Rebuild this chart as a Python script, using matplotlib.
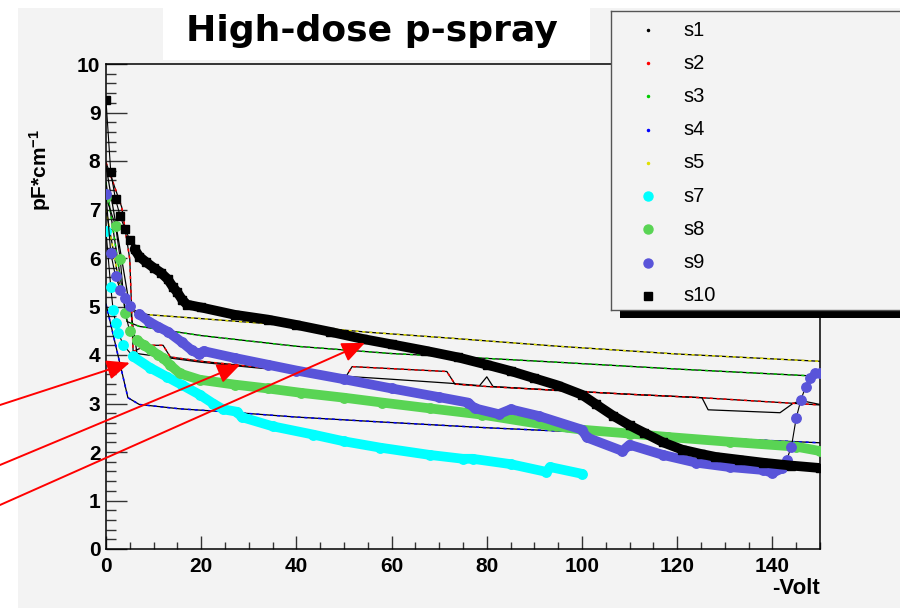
import numpy as np
import matplotlib.pyplot as plt
from matplotlib.patches import Rectangle
from matplotlib.ticker import MultipleLocator

plt.rcParams['font.family'] = ['Liberation Sans', 'DejaVu Sans']
plt.rcParams['mathtext.fontset'] = 'custom'
plt.rcParams['mathtext.rm'] = 'Liberation Sans'
plt.rcParams['mathtext.bf'] = 'Liberation Sans:bold'
plt.rcParams['mathtext.default'] = 'bf'

# ---- data (bias in -V, capacitance in pF/cm) ----
s1_v = [0, 6.0, 6.5, 20, 30, 40, 50.5, 60, 72, 78.5, 80, 81.3, 95, 110, 125.2, 126.5, 141.6, 144.3, 146, 150]
s1_c = [7.9, 4.4, 4.03, 3.85, 3.75, 3.66, 3.56, 3.5, 3.42, 3.37, 3.55, 3.35, 3.27, 3.19, 3.12, 2.87, 2.81, 3.0, 3.06, 2.98]

s2_v = [0, 3.3, 5.0, 5.7, 8.5, 12, 13.5, 20, 30, 40, 50.5, 51.7, 71.6, 73.3, 80, 95, 110, 125, 150]
s2_c = [7.97, 7.05, 5.97, 4.07, 4.2, 4.2, 3.96, 3.87, 3.77, 3.67, 3.57, 3.76, 3.66, 3.4, 3.35, 3.27, 3.19, 3.12, 2.97]

s3_v = [0, 4.4, 7, 20, 40, 60, 80, 95, 120, 150]
s3_c = [7.56, 4.69, 4.59, 4.4, 4.18, 4.03, 3.93, 3.85, 3.71, 3.56]

s4_v = [0, 4.6, 7, 15.5, 25, 40, 57.6, 80, 100, 125, 150]
s4_c = [5.05, 3.12, 2.98, 2.89, 2.83, 2.72, 2.62, 2.5, 2.41, 2.3, 2.19]

s5_v = [0, 3, 6, 9, 20, 40, 55, 72, 95, 120, 150]
s5_c = [7.0, 5.35, 4.88, 4.83, 4.75, 4.6, 4.47, 4.35, 4.18, 4.02, 3.87]

s7_v = [0, 1, 1.5, 2, 2.6, 3.6, 5.7, 9.2, 12.8, 16, 19.7, 22.5, 24.6, 27.5, 28.5, 35, 43.5, 50, 57.6, 68, 75, 77, 85, 92.5, 93.3, 100]
s7_c = [6.55, 5.4, 4.93, 4.67, 4.46, 4.21, 3.97, 3.74, 3.55, 3.38, 3.18, 3.0, 2.88, 2.83, 2.72, 2.53, 2.36, 2.22, 2.09, 1.94, 1.86, 1.86, 1.75, 1.59, 1.69, 1.55]

s8_v = [0, 2, 3, 4, 5, 6.5, 8, 9.5, 11, 12, 13.4, 15.5, 19.7, 27, 34, 41, 50, 58, 68, 79, 93, 100, 110, 118, 131, 145, 150]
s8_c = [7.25, 6.67, 5.97, 4.87, 4.49, 4.3, 4.2, 4.1, 4.0, 3.94, 3.8, 3.62, 3.49, 3.39, 3.31, 3.22, 3.12, 3.02, 2.9, 2.77, 2.55, 2.46, 2.38, 2.31, 2.21, 2.11, 2.02]

s9_v = [0, 1, 2, 3, 4, 5, 7, 9, 11, 13, 16, 18, 19.5, 20.5, 27, 34, 40, 50, 60, 70, 76, 77.5, 82.5, 85, 91, 100, 101,
        108.5, 110, 117, 124, 131, 138, 140, 142, 143, 144, 145, 146, 147, 148, 149, 150]
s9_c = [7.31, 6.1, 5.62, 5.35, 5.17, 5.02, 4.84, 4.69, 4.58, 4.48, 4.26, 4.1, 4.02, 4.08, 3.94, 3.8, 3.68, 3.5, 3.31, 3.13, 3.02, 2.9, 2.78, 2.88, 2.74, 2.46, 2.3,
        2.02, 2.15, 1.94, 1.78, 1.69, 1.63, 1.57, 1.66, 1.84, 2.11, 2.7, 3.08, 3.35, 3.53, 3.62, 3.63]

s10_v = [0, 1, 2, 3, 4, 5, 6, 7, 8.5, 10, 11.5, 13, 14, 15, 16, 17, 20, 27, 34, 40, 47, 54, 60, 67, 74, 80, 85, 90, 95,
         100, 103, 106.5, 110, 113, 117, 121, 125, 128, 133, 138, 144, 150]
s10_c = [9.25, 7.77, 7.21, 6.86, 6.59, 6.38, 6.18, 6.03, 5.91, 5.8, 5.7, 5.56, 5.41, 5.29, 5.14, 5.04, 4.98, 4.83, 4.73, 4.62, 4.48, 4.33, 4.22, 4.09, 3.95, 3.80, 3.67, 3.52, 3.37,
         3.18, 2.98, 2.75, 2.55, 2.4, 2.2, 2.05, 1.96, 1.9, 1.84, 1.78, 1.72, 1.67]

names = ['s1', 's2', 's3', 's4', 's5', 's7', 's8', 's9', 's10']
colors = ['#000000', '#ff0000', '#00cc00', '#0000ff', '#e0e000', '#00ffff', '#59d454', '#5954d9', '#000000']

# arrows pointing at the curves (tip in data units, tail at left picture edge in pixels)
arrow_tips = [(5.0, 3.84), (28.2, 3.80), (54.4, 4.25)]
arrow_tails = [(0, 203), (0, 143), (0, 103)]

thin = [(s1_v, s1_c), (s2_v, s2_c), (s3_v, s3_c), (s4_v, s4_c), (s5_v, s5_c)]
thick = [(s7_v, s7_c, 4.0, 100), (s8_v, s8_c, 6.0, 150), (s9_v, s9_c, 6.0, 142), (s10_v, s10_c, 6.0, 150)]

W, H = 900, 608
fig = plt.figure(figsize=(W / 100, H / 100), dpi=100)
fig.patch.set_facecolor('white')
fig.patches.append(Rectangle((18 / W, 0), 1, 1 - 8 / H, transform=fig.transFigure,
                             facecolor='#f3f3f3', edgecolor='none', zorder=-3))
fig.patches.append(Rectangle((163 / W, 1 - 60 / H), (590 - 163) / W, 60 / H, transform=fig.transFigure,
                             facecolor='white', edgecolor='none', zorder=-2))

ax = fig.add_axes([106 / W, 1 - 549 / H, 714 / W, 485 / H])
ax.set_facecolor('#f3f3f3')
ax.set_xlim(0, 150)
ax.set_ylim(0, 10)

for (v, c), col in zip(thin, colors[:5]):
    ax.plot(v, c, color='black', lw=0.9, zorder=2)
    if col != '#000000':
        ax.plot(v, c, color=col, lw=1.1, ls=(0, (2, 2.5)), zorder=2)

for (v, c, b0, b1), col, mk in zip(thick, colors[5:], ['o', 'o', 'o', 's']):
    v = np.array(v)
    c = np.array(c)
    band = (v >= b0) & (v <= b1)
    ax.plot(v, c, color='black', lw=0.8, zorder=3)
    ax.plot(v[band], c[band], color=col, lw=7, solid_capstyle='round', solid_joinstyle='round', zorder=3)
    ax.plot(v, c, mk, color=col, ms=6.8 if mk == 'o' else 6.3, mec=col, zorder=3)

ax.xaxis.set_major_locator(MultipleLocator(20))
ax.xaxis.set_minor_locator(MultipleLocator(5))
ax.yaxis.set_major_locator(MultipleLocator(1))
ax.yaxis.set_minor_locator(MultipleLocator(0.2))
ax.tick_params(which='both', direction='in', top=False, right=False, color='#333333', width=1)
ax.tick_params(axis='y', which='major', length=15, pad=4)
ax.tick_params(axis='y', which='minor', length=7.5)
ax.tick_params(axis='x', which='major', length=9.5, pad=6)
ax.tick_params(axis='x', which='minor', length=5)
for lab in ax.get_xticklabels() + ax.get_yticklabels():
    lab.set_fontsize(15)
    lab.set_fontweight('bold')
for sp in ax.spines.values():
    sp.set_linewidth(1.1)

for (tx, ty), tail in zip(arrow_tips, arrow_tails):
    ax.annotate('', xy=(tx, ty), xycoords='data', xytext=tail, textcoords='figure pixels',
                arrowprops=dict(arrowstyle='-|>,head_length=0.7,head_width=0.3', color='red', lw=1.4,
                                shrinkA=0, shrinkB=0, mutation_scale=20),
                annotation_clip=False, zorder=6)

fig.text(372 / W, 1 - 31 / H, 'High-dose p-spray', ha='center', va='center',
         fontsize=26, fontweight='bold', family='DejaVu Sans')
fig.text(40 / W, 1 - 170 / H, 'pF*cm$^{-1}$', rotation=90, ha='center', va='center',
         fontsize=15, fontweight='bold')
fig.text(820 / W, 1 - 589 / H, '-Volt', ha='right', va='center', fontsize=16, fontweight='bold')

# legend box with shadow
fig.patches.append(Rectangle((620 / W, 1 - 318 / H), 1, 7 / H, transform=fig.transFigure,
                             facecolor='black', edgecolor='none', zorder=4))
lg = fig.add_axes([611 / W, 1 - 310 / H, 300 / W, 299 / H], zorder=5)
lg.set_facecolor('#f3f3f3')
lg.set_xlim(611, 911)
lg.set_ylim(310, 11)
lg.set_xticks([])
lg.set_yticks([])
for sp in lg.spines.values():
    sp.set_color('#555555')
    sp.set_linewidth(1)
for i, (nm, col) in enumerate(zip(names, colors)):
    y = 30 + 33.25 * i
    if i < 5:
        lg.plot([648], [y], 'o', color=col, ms=1.5)
    elif i < 8:
        lg.plot([648], [y], 'o', color=col, ms=6.5)
    else:
        lg.plot([648], [y], 's', color=col, ms=6)
    lg.text(683, y, nm, ha='left', va='center', fontsize=14.5)

fig.savefig('out.png', dpi=100, facecolor=fig.get_facecolor())
